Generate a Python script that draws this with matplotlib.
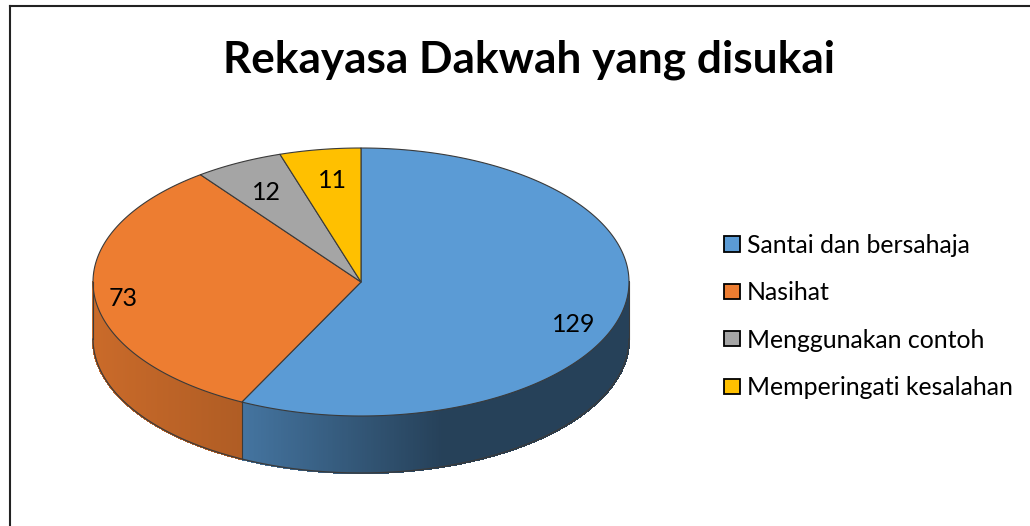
import numpy as np
from matplotlib import pyplot as plt
from matplotlib.colors import to_rgb
from matplotlib.patches import Polygon, Rectangle

title = "Rekayasa Dakwah yang disukai"
labels = ["Santai dan bersahaja", "Nasihat", "Menggunakan contoh", "Memperingati kesalahan"]
values = [129, 73, 12, 11]
colors = ["#5b9bd5", "#ed7d31", "#a5a5a5", "#ffc000"]
edge = "#3a3a3a"

# pie geometry in pixels
cx, cy, rx, ry = 361, 282, 268, 134
depth = 57

plt.rcParams['font.family'] = ['Lato', 'DejaVu Sans']

fig = plt.figure(figsize=(10.30, 5.26), dpi=100)
ax = fig.add_axes([0, 0, 1, 1])
ax.set_xlim(0, 1030)
ax.set_ylim(526, 0)
ax.axis("off")


def rim(t):
	return cx + rx * np.sin(t), cy - ry * np.cos(t)


# frame, only top and left show in the reference
ax.plot([9.5, 9.5], [526, 5.5], color="#222222", lw=1.5)
ax.plot([9.5, 1030], [5.5, 5.5], color="#222222", lw=1.5)

fracs = np.array(values) / sum(values) * 2 * np.pi
ends = np.cumsum(fracs)
starts = ends - fracs

# side wall, only the part facing front (pi/2 .. 3pi/2)
for i in range(len(values)):
	a = max(starts[i], np.pi / 2)
	b = min(ends[i], 3 * np.pi / 2)
	if b <= a:
		continue
	ts = np.linspace(a, b, int((b - a) * 150) + 2)
	base = np.array(to_rgb(colors[i]))
	for t0, t1 in zip(ts[:-1], ts[1:]):
		x0, y0 = rim(t0)
		x1, y1 = rim(t1)
		xm = (x0 + x1) / 2
		if i == 0:
			f = np.clip((xm - 242) / (440 - 242), 0, 1)
			col = base * (0.75 - f * 0.33)
		else:
			f = np.clip((xm - 94) / (242 - 94), 0, 1)
			col = base * (0.85 - f * 0.11)
		ax.add_patch(Polygon([(x0, y0), (x1, y1), (x1, y1 + depth), (x0, y0 + depth)],
			closed=True, fc=col, ec=col, lw=1.0, antialiased=False))

# outline of the wall
ts = np.linspace(np.pi / 2, 3 * np.pi / 2, 300)
xs, ys = rim(ts)
ax.plot(xs, ys + depth, color=edge, lw=0.9)
ax.plot([cx + rx, cx + rx], [cy, cy + depth], color=edge, lw=0.8)
ax.plot([cx - rx, cx - rx], [cy, cy + depth], color=edge, lw=0.8)
x_s, y_s = rim(ends[0])
ax.plot([x_s, x_s], [y_s, y_s + depth], color=edge, lw=0.8)

# top face
for i in range(len(values)):
	ts = np.linspace(starts[i], ends[i], 200)
	xs, ys = rim(ts)
	pts = np.column_stack([np.r_[cx, xs], np.r_[cy, ys]])
	ax.add_patch(Polygon(pts, closed=True, fc=colors[i], ec=edge, lw=0.8, joinstyle="round"))

ax.text(529, 73, title, fontsize=31.8, fontweight="bold", ha="center", va="baseline", color="black")

# data labels
label_pos = [(574, 324), (123, 299), (266, 192), (332, 180)]
for v, (x, y) in zip(values, label_pos):
	ax.text(x, y, str(v), fontsize=18, ha="center", va="center", color="black")

# legend
leg_y = [243.5, 291, 338, 386]
leg_base = [253, 300, 348, 395]
for c, lab, y, yb in zip(colors, labels, leg_y, leg_base):
	ax.add_patch(Rectangle((723.5, y - 7.5), 16, 15.5, fc=c, ec="black", lw=1.3))
	ax.text(747, yb, lab, fontsize=17.9, ha="left", va="baseline", color="black")

fig.savefig("out.png", dpi=100)
plt.close(fig)
